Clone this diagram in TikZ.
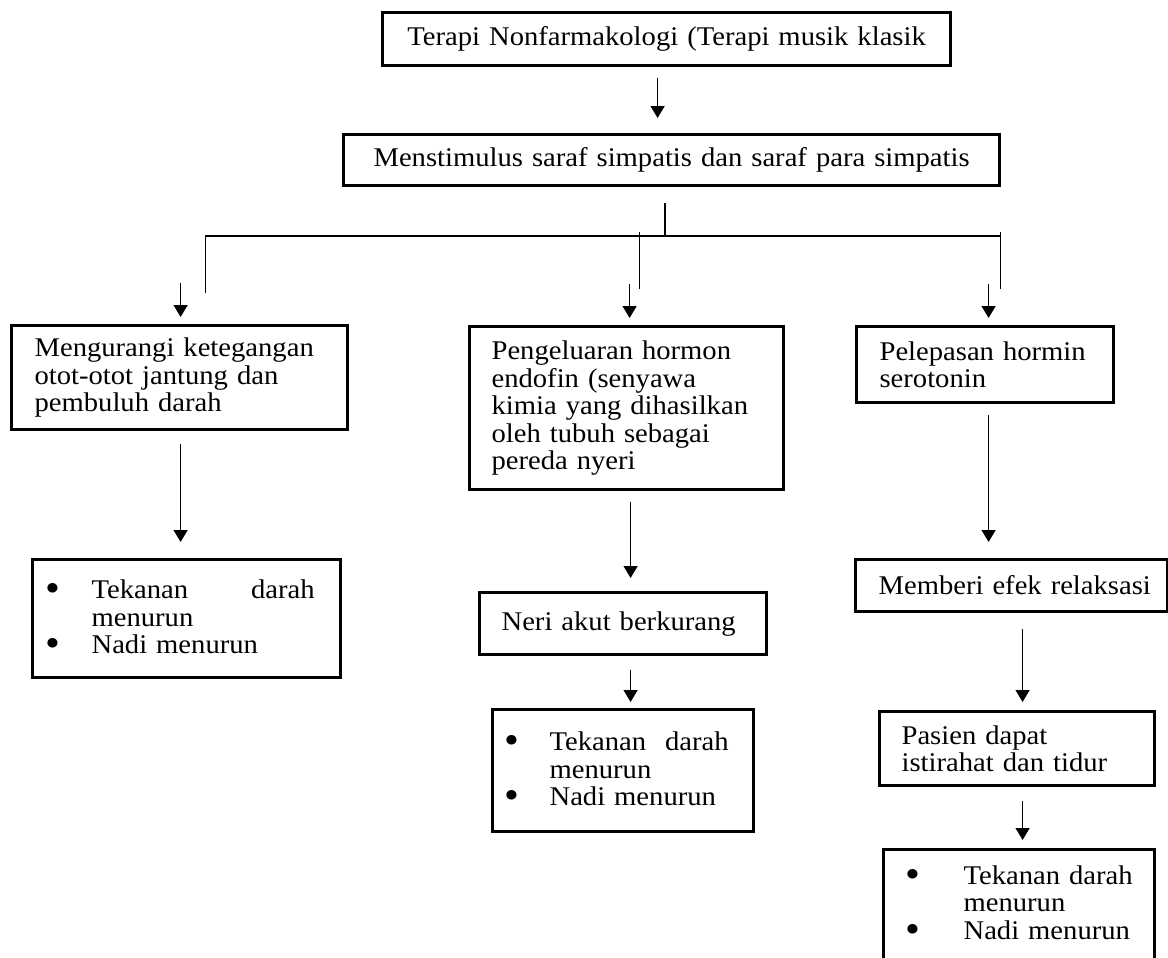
\documentclass[tikz,border=0pt]{standalone}
\usepackage{fontspec}
\setmainfont{Liberation Serif}[FakeStretch=1.06]
\usetikzlibrary{calc,
	positioning,
	arrows.meta}
\tikzstyle{bx}=[draw, line width=3.2pt, anchor=north west, align=left, inner ysep=0pt,
		font=\fontsize{27}{27.5}\selectfont]
\tikzstyle{arr}=[-{Triangle[length=12pt, width=14pt]}, line width=1.4pt]
\tikzstyle{ln}=[line width=1.4pt]
\newcommand{\bul}[1]{\makebox[#1][l]{\raisebox{-3pt}{\fontsize{40}{27.5}\selectfont\textbullet}}}

\begin{document}
\begin{tikzpicture}[x=1pt, y=-1pt]
        \path[use as bounding box, clip] (0,0) rectangle (1168,958);
        \fill[white] (0,0) rectangle (1168,958);
        \node[bx, inner xsep=23pt, text width=522pt, minimum height=53pt, align=center] (terapi) at (381,11) {Terapi Nonfarmakologi (Terapi musik klasik};
        \node[bx, inner xsep=20pt, text width=616pt, minimum height=51pt, align=center] (stimulus) at (342,133) {Menstimulus saraf simpatis dan saraf para simpatis};
        \node[bx, inner xsep=23pt, text width=290pt, minimum height=104pt] (otot) at (10,324) {Mengurangi ketegangan\\otot-otot jantung dan\\pembuluh darah};
        \node[bx, inner xsep=22pt, text width=270pt, minimum height=163pt] (endorfin) at (468,325) {Pengeluaran hormon\\endofin (senyawa\\kimia yang dihasilkan\\oleh tubuh sebagai\\pereda nyeri};
        \node[bx, inner xsep=23pt, text width=211pt, minimum height=76pt] (serotonin) at (855,325) {Pelepasan hormin\\serotonin};
        \node[bx, inner xsep=13pt, text width=282pt, minimum height=118pt] (tensiA) at (31,558) {\bul{46pt}\hbox to 223pt{Tekanan\hfill darah}\\\hspace*{46pt}menurun\\\bul{46pt}Nadi menurun};
        \node[bx, inner xsep=22pt, text width=243pt, minimum height=62pt] (nyeri) at (478,591) {Neri akut berkurang};
        \node[bx, inner xsep=12pt, text width=237pt, minimum height=122pt] (tensiB) at (491,708) {\bul{45pt}\hbox to 179pt{Tekanan\hfill darah}\\\hspace*{45pt}menurun\\\bul{45pt}Nadi menurun};
        \node[bx, inner xsep=23pt, text width=266pt, minimum height=52pt] (relaksasi) at (854,558) {\mbox{Memberi efek relaksasi}};
        \node[bx, inner xsep=22pt, text width=231pt, minimum height=74pt] (istirahat) at (878,710) {Pasien dapat\\istirahat dan tidur};
        \node[bx, inner xsep=22pt, text width=227pt, minimum height=133pt] (tensiC) at (882,848) {\bul{58pt}\mbox{Tekanan darah}\\\hspace*{58pt}menurun\\\bul{58pt}Nadi menurun\\\mbox{}};
        % connectors
        \draw[arr, shorten <=11pt, shorten >=15pt] ([xshift=-9pt]terapi.south) -- ([xshift=-9pt]terapi.south |- stimulus.north);
        \coordinate (bus) at (665,236);
        \coordinate (dl) at ([xshift=26pt,yshift=31pt]otot.north);
        \coordinate (dc) at ([xshift=13pt,yshift=36pt]endorfin.north);
        \coordinate (dr) at ([xshift=15.5pt,yshift=36pt]serotonin.north);
        \draw[ln, shorten >=16pt] (bus) -- (bus |- stimulus.south);
        \draw[ln] (dl) |- (bus) -| (dr);
        \draw[ln, shorten >=-4pt] (dc) -- (dc |- bus);
        \draw[ln, shorten >=-4pt] (dr) -- (dr |- bus);
        \draw[arr] ([xshift=1pt,yshift=41pt]otot.north) -- ([xshift=1pt,yshift=7pt]otot.north);
        \draw[arr] ([xshift=3pt,yshift=41pt]endorfin.north) -- ([xshift=3pt,yshift=7pt]endorfin.north);
        \draw[arr] ([xshift=3.5pt,yshift=41pt]serotonin.north) -- ([xshift=3.5pt,yshift=7pt]serotonin.north);
        \draw[arr, shorten <=13pt, shorten >=16pt] ([xshift=1pt]otot.south) -- ([xshift=1pt]otot.south |- tensiA.north);
        \draw[arr, shorten <=11pt, shorten >=13pt] ([xshift=4pt]endorfin.south) -- ([xshift=4pt]endorfin.south |- nyeri.north);
        \draw[arr, shorten <=14pt, shorten >=6pt] ([xshift=7.5pt]nyeri.south) -- ([xshift=7.5pt]nyeri.south |- tensiB.north);
        \draw[arr, shorten <=11pt, shorten >=16pt] ([xshift=3.5pt]serotonin.south) -- ([xshift=3.5pt]serotonin.south |- relaksasi.north);
        \draw[arr, shorten <=16pt, shorten >=8pt] ([xshift=11pt]relaksasi.south) -- ([xshift=11pt]relaksasi.south |- istirahat.north);
        \draw[arr, shorten <=14pt, shorten >=8pt] ([xshift=5.5pt]istirahat.south) -- ([xshift=5.5pt]istirahat.south |- tensiC.north);
    \end{tikzpicture}
\end{document}
